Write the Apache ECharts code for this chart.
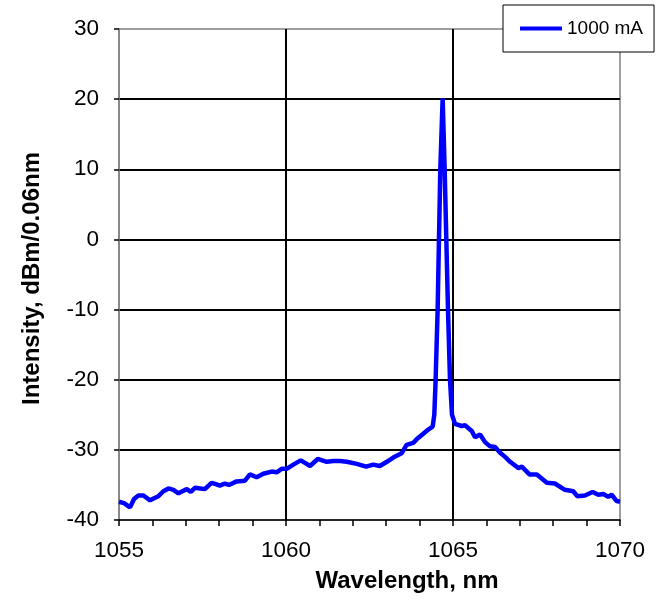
<!DOCTYPE html>
<html>
<head>
<meta charset="utf-8">
<script src="https://cdn.jsdelivr.net/npm/echarts@6/dist/echarts.min.js"></script>
<style>html,body{margin:0;padding:0;background:#fff}#c{width:659px;height:612px}</style>
</head>
<body>
<div id="c"></div>
<script>
const seriesName = '1000 mA';
const wavelength = [
1055.00,1055.15,1055.33,1055.45,1055.58,1055.73,1055.93,1056.05,1056.18,1056.33,
1056.48,1056.63,1056.78,1056.90,1057.03,1057.15,1057.28,1057.43,1057.57,1057.77,
1057.90,1058.02,1058.17,1058.29,1058.52,1058.77,1058.92,1059.12,1059.32,1059.57,
1059.72,1059.87,1060.02,1060.22,1060.44,1060.58,1060.72,1060.95,1061.22,1061.42,
1061.62,1061.82,1062.12,1062.40,1062.61,1062.81,1063.02,1063.21,1063.46,1063.61,
1063.81,1063.91,1064.11,1064.26,1064.39,1064.44,1064.48,1064.54,1064.62,1064.69,
1064.75,1064.85,1064.91,1064.97,1065.06,1065.26,1065.36,1065.56,1065.66,1065.81,
1065.96,1066.11,1066.26,1066.41,1066.56,1066.71,1066.96,1067.06,1067.29,1067.51,
1067.81,1068.05,1068.35,1068.60,1068.72,1068.95,1069.18,1069.35,1069.50,1069.65,
1069.75,1069.90,1070.00];
const intensity = [
-37.4,-37.6,-38.2,-37.0,-36.5,-36.5,-37.2,-36.9,-36.6,-35.9,
-35.5,-35.7,-36.2,-35.9,-35.6,-36.0,-35.4,-35.5,-35.6,-34.7,
-34.9,-35.1,-34.8,-35.0,-34.5,-34.4,-33.5,-33.9,-33.4,-33.1,
-33.2,-32.7,-32.7,-32.1,-31.5,-31.9,-32.3,-31.3,-31.7,-31.6,
-31.6,-31.7,-32.0,-32.4,-32.1,-32.3,-31.7,-31.1,-30.5,-29.3,
-29.0,-28.5,-27.7,-27.1,-26.7,-25.0,-20.0,-10.0,10.0,20.1,
10.0,-10.0,-20.0,-25.0,-26.3,-26.6,-26.5,-27.3,-28.2,-27.8,
-28.9,-29.5,-29.6,-30.4,-31.0,-31.7,-32.6,-32.4,-33.5,-33.5,
-34.7,-34.8,-35.7,-35.9,-36.6,-36.5,-36.0,-36.4,-36.3,-36.7,
-36.4,-37.3,-37.4];
const xMin = 1055, xMax = 1070, xStep = 5;
const yMin = -40, yMax = 30, yStep = 10;
const xTitle = 'Wavelength, nm';
const yTitle = 'Intensity, dBm/0.06nm';

const FONT = '"Liberation Sans", Arial, sans-serif';
const chart = echarts.init(document.getElementById('c'), null, {renderer: 'canvas'});
chart.setOption({
  animation: false,
  backgroundColor: '#fff',
  grid: {left: 119, right: 39, top: 29, bottom: 92, show: true, borderColor: '#808080', borderWidth: 1.5, backgroundColor: 'transparent'},
  legend: {
    left: 503, top: 5,
    backgroundColor: '#fff', borderColor: '#000', borderWidth: 1,
    padding: [14, 11, 14, 17],
    icon: 'rect', itemWidth: 42, itemHeight: 4, itemGap: 5,
    textStyle: {fontFamily: FONT, fontSize: 19, color: '#000'},
    data: [seriesName]
  },
  xAxis: {
    type: 'value', min: xMin, max: xMax, interval: xStep,
    name: xTitle, nameLocation: 'middle', nameGap: 49,
    nameTextStyle: {fontFamily: FONT, fontSize: 24, fontWeight: 'bold', color: '#000', padding: [0, 0, 0, 75]},
    axisLine: {show: true, onZero: false, lineStyle: {color: '#000', width: 1.5}},
    axisTick: {show: true, inside: false, length: 6, lineStyle: {color: '#000', width: 1.5}},
    minorTick: {show: true, splitNumber: 5, length: 6, lineStyle: {color: '#000', width: 1.5}},
    axisLabel: {fontFamily: FONT, fontSize: 22.5, color: '#000', margin: 19, formatter: v => String(v)},
    splitLine: {show: true, showMinLine: false, showMaxLine: false, lineStyle: {color: '#000', width: 2}}
  },
  yAxis: {
    type: 'value', min: yMin, max: yMax, interval: yStep,
    name: yTitle, nameLocation: 'middle', nameGap: 75, nameRotate: 90,
    nameTextStyle: {fontFamily: FONT, fontSize: 24, fontWeight: 'bold', color: '#000', padding: [0, 8, 0, 0]},
    axisLine: {show: true, onZero: false, lineStyle: {color: '#808080', width: 1.5}},
    axisTick: {show: true, inside: false, length: 5, lineStyle: {color: '#000', width: 1.5}},
    axisLabel: {fontFamily: FONT, fontSize: 22.5, color: '#000', margin: 20},
    splitLine: {show: true, showMinLine: false, showMaxLine: false, lineStyle: {color: '#000', width: 2}}
  },
  series: [{
    name: seriesName, type: 'line',
    data: wavelength.map((w, i) => [w, intensity[i]]),
    symbol: 'none', smooth: false,
    lineStyle: {color: '#0000ff', width: 4.5},
    itemStyle: {color: '#0000ff'},
    z: 5
  }]
});
</script>
</body>
</html>
